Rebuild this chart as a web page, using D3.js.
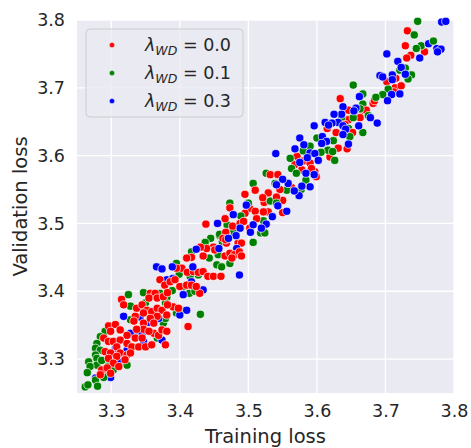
<!DOCTYPE html>
<html>
<head>
<meta charset="utf-8">
<script src="https://cdn.jsdelivr.net/npm/d3@7"></script>
<style>
body { margin: 0; background: #ffffff; }
.chart text { font-family: "DejaVu Sans", sans-serif; fill: #262626; }
</style>
</head>
<body>
<script>

// series labels (lambda_WD values) and colours
var seriesLabels = ["0.0", "0.1", "0.3"];
var seriesColors = ["#ff0000", "#008000", "#0000ff"];

// tick labels
var xTicks = [3.3, 3.4, 3.5, 3.6, 3.7, 3.8];
var yTicks = [3.3, 3.4, 3.5, 3.6, 3.7, 3.8];

// [training loss, validation loss] for lambda_WD = 0.0
var redPts = [
  [3.732,3.784],[3.729,3.762],[3.757,3.753],[3.737,3.748],[3.731,3.744],[3.715,3.714],
  [3.702,3.709],[3.714,3.700],[3.723,3.703],[3.712,3.694],[3.682,3.677],[3.684,3.681],
  [3.634,3.684],[3.666,3.667],[3.672,3.667],[3.646,3.667],[3.663,3.656],[3.646,3.653],
  [3.641,3.646],[3.615,3.640],[3.628,3.634],[3.652,3.634],[3.631,3.611],[3.644,3.610],
  [3.619,3.598],[3.571,3.599],[3.580,3.592],[3.590,3.589],[3.568,3.587],[3.578,3.579],
  [3.597,3.576],[3.592,3.581],[3.599,3.569],
  [3.563,3.553],[3.550,3.534],[3.523,3.531],[3.529,3.517],[3.522,3.517],[3.550,3.516],
  [3.532,3.572],[3.543,3.572],[3.546,3.550],[3.541,3.539],[3.529,3.545],[3.521,3.538],
  [3.495,3.543],[3.510,3.549],[3.473,3.523],[3.466,3.507],[3.477,3.496],[3.502,3.522],
  [3.495,3.515],[3.510,3.518],[3.488,3.500],[3.493,3.503],[3.485,3.471],[3.490,3.471],
  [3.467,3.487],[3.512,3.507],[3.502,3.493],[3.468,3.471],[3.463,3.478],
  [3.438,3.499],[3.467,3.476],[3.449,3.465],[3.439,3.463],[3.430,3.465],[3.417,3.450],
  [3.410,3.449],[3.434,3.452],[3.451,3.461],[3.466,3.452],[3.403,3.434],[3.395,3.434],
  [3.411,3.428],[3.420,3.429],[3.427,3.428],[3.434,3.429],[3.441,3.422],[3.449,3.422],
  [3.460,3.422],[3.473,3.456],[3.480,3.454],[3.487,3.458],[3.490,3.452],[3.476,3.449],
  [3.371,3.417],[3.378,3.409],[3.386,3.414],[3.393,3.417],[3.400,3.407],[3.410,3.409],
  [3.417,3.409],[3.429,3.397],[3.424,3.407],[3.390,3.377],[3.398,3.375],[3.412,3.348],
  [3.357,3.397],[3.364,3.397],[3.355,3.390],[3.367,3.390],[3.376,3.392],[3.382,3.398],
  [3.315,3.388],[3.318,3.380],[3.337,3.375],[3.345,3.380],[3.352,3.372],[3.359,3.370],
  [3.367,3.375],[3.374,3.372],[3.382,3.380],[3.347,3.368],[3.335,3.363],[3.367,3.363],
  [3.333,3.356],[3.347,3.353],[3.357,3.360],[3.362,3.353],[3.381,3.365],[3.296,3.349],
  [3.306,3.351],[3.299,3.341],[3.313,3.343],[3.323,3.335],[3.335,3.331],[3.345,3.331],
  [3.347,3.344],[3.362,3.338],[3.369,3.335],[3.374,3.343],[3.381,3.341],[3.337,3.344],
  [3.355,3.341],[3.289,3.331],[3.296,3.326],[3.303,3.326],[3.313,3.328],[3.323,3.323],
  [3.330,3.318],[3.340,3.318],[3.350,3.318],[3.359,3.321],[3.379,3.321],[3.308,3.318],
  [3.291,3.311],[3.299,3.309],[3.313,3.309],[3.323,3.306],[3.328,3.309],[3.296,3.301],
  [3.308,3.304],[3.320,3.299],[3.303,3.294],[3.286,3.284],[3.294,3.287],[3.299,3.279],
  [3.284,3.277],[3.311,3.289]
];

// lambda_WD = 0.1
var greenPts = [
  [3.747,3.798],[3.742,3.778],[3.752,3.762],[3.745,3.758],[3.770,3.769],[3.729,3.729],
  [3.721,3.726],[3.738,3.719],[3.733,3.713],[3.704,3.698],[3.696,3.690],[3.686,3.686],
  [3.667,3.691],[3.667,3.676],
  [3.653,3.704],[3.663,3.669],[3.675,3.659],[3.636,3.656],[3.653,3.656],[3.646,3.640],
  [3.667,3.634],[3.648,3.628],[3.600,3.626],[3.624,3.622],[3.616,3.608],[3.623,3.606],
  [3.590,3.614],[3.606,3.605],[3.580,3.607],[3.561,3.596],[3.626,3.593],[3.563,3.581],
  [3.570,3.574],
  [3.577,3.550],[3.556,3.549],[3.584,3.564],[3.526,3.574],[3.522,3.504],[3.518,3.486],
  [3.524,3.486],[3.532,3.533],[3.539,3.559],[3.558,3.560],[3.541,3.530],
  [3.507,3.559],[3.473,3.530],[3.469,3.498],[3.458,3.482],[3.478,3.488],[3.507,3.472],
  [3.500,3.530],[3.489,3.511],[3.468,3.484],[3.462,3.473],
  [3.458,3.484],[3.445,3.478],[3.437,3.472],[3.417,3.458],[3.456,3.454],[3.443,3.449],
  [3.395,3.441],[3.399,3.425],[3.415,3.422],[3.427,3.424],[3.454,3.439],[3.461,3.436],
  [3.473,3.441],[3.381,3.392],[3.405,3.407],[3.414,3.397],[3.389,3.401],[3.422,3.400],
  [3.395,3.368],[3.403,3.372],[3.430,3.366],
  [3.325,3.395],[3.347,3.398],[3.371,3.397],[3.381,3.391],[3.328,3.378],[3.350,3.383],
  [3.379,3.383],[3.328,3.358],[3.376,3.353],[3.379,3.360],[3.291,3.341],[3.284,3.333],
  [3.367,3.331],[3.279,3.323],[3.277,3.316],[3.284,3.313],[3.277,3.306],[3.279,3.301],
  [3.267,3.296],[3.279,3.291],[3.286,3.298],[3.296,3.290],[3.318,3.296],[3.323,3.291],
  [3.269,3.289],[3.265,3.280],[3.296,3.281],[3.277,3.269],[3.289,3.273],[3.303,3.284],
  [3.262,3.259],[3.266,3.262],[3.280,3.260]
];

// lambda_WD = 0.3
var bluePts = [
  [3.782,3.797],[3.788,3.798],[3.763,3.765],[3.775,3.758],[3.781,3.757],[3.776,3.753],
  [3.750,3.744],[3.702,3.750],[3.718,3.739],[3.723,3.730],[3.729,3.720],[3.692,3.718],
  [3.696,3.716],[3.710,3.719],[3.710,3.712],[3.709,3.690],[3.721,3.691],[3.703,3.681],
  [3.662,3.687],[3.638,3.672],[3.636,3.661],[3.657,3.670],[3.654,3.666],[3.688,3.648],
  [3.678,3.656],[3.625,3.661],[3.631,3.649],[3.638,3.644],[3.596,3.644],[3.612,3.649],
  [3.622,3.648],[3.661,3.644],[3.617,3.645],[3.642,3.639],[3.638,3.631],[3.608,3.628],
  [3.614,3.621],[3.575,3.626],[3.607,3.618],[3.646,3.617],[3.581,3.616],[3.568,3.610],
  [3.590,3.604],[3.597,3.603],[3.602,3.593],[3.575,3.590],[3.586,3.597],[3.584,3.574],
  [3.596,3.572],
  [3.590,3.554],[3.578,3.555],[3.574,3.541],[3.556,3.518],[3.535,3.510],[3.543,3.526],
  [3.567,3.548],[3.558,3.559],[3.526,3.499],[3.519,3.493],[3.540,3.603],[3.550,3.565],
  [3.541,3.557],
  [3.497,3.527],[3.478,3.513],[3.507,3.498],[3.488,3.493],[3.482,3.482],[3.503,3.487],
  [3.471,3.478],[3.483,3.463],
  [3.455,3.500],[3.424,3.462],[3.457,3.463],[3.366,3.436],[3.374,3.433],[3.389,3.436],
  [3.419,3.436],[3.487,3.424],[3.381,3.417],[3.390,3.419],[3.405,3.395],[3.417,3.414],
  [3.434,3.402],[3.410,3.372],[3.400,3.365],
  [3.318,3.363],[3.342,3.362],[3.369,3.360],[3.355,3.354],[3.335,3.339],[3.328,3.338],
  [3.345,3.338],[3.323,3.313],[3.306,3.316],[3.374,3.328],[3.347,3.326],[3.277,3.272],
  [3.299,3.273],[3.311,3.296]
];

var seriesPts = [redPts, greenPts, bluePts];

var width = 471, height = 448;
var plot = {left: 77, right: 454, top: 20, bottom: 393};

var svg = d3.select("body").append("svg")
    .attr("width", width)
    .attr("height", height)
    .attr("class", "chart");

var x = d3.scaleLinear().domain([3.25, 3.8]).range([plot.left, plot.right]);
var y = d3.scaleLinear().domain([3.25, 3.8]).range([plot.bottom, plot.top]);

// background + grid
svg.append("rect")
    .attr("x", plot.left).attr("y", plot.top)
    .attr("width", plot.right - plot.left)
    .attr("height", plot.bottom - plot.top)
    .attr("fill", "#eaeaf2");

svg.append("g").selectAll("line").data(xTicks).enter().append("line")
    .attr("x1", function(d) { return x(d); }).attr("x2", function(d) { return x(d); })
    .attr("y1", plot.top).attr("y2", plot.bottom)
    .attr("stroke", "#ffffff").attr("stroke-width", 1.3);

svg.append("g").selectAll("line").data(yTicks).enter().append("line")
    .attr("y1", function(d) { return y(d); }).attr("y2", function(d) { return y(d); })
    .attr("x1", plot.left).attr("x2", plot.right)
    .attr("stroke", "#ffffff").attr("stroke-width", 1.3);

// axes (labels only, no lines)
svg.append("g")
    .attr("transform", "translate(0," + plot.bottom + ")")
    .call(d3.axisBottom(x).tickValues(xTicks).tickFormat(d3.format(".1f")).tickSize(0).tickPadding(12));

svg.append("g")
    .attr("transform", "translate(" + plot.left + ",0)")
    .call(d3.axisLeft(y).tickValues(yTicks).tickFormat(d3.format(".1f")).tickSize(0).tickPadding(12));

svg.selectAll(".domain").remove();
svg.selectAll(".tick text")
    .attr("font-family", "DejaVu Sans, sans-serif")
    .attr("font-size", 17.5)
    .attr("fill", "#262626");

// points, interleaved so colours overlap as in a single hue scatter
var allPts = [];
var n = d3.max(seriesPts, function(s) { return s.length; });
for (var i = 0; i < n; i++) {
    seriesPts.forEach(function(s, k) {
        if (i < s.length) allPts.push({tx: s[i][0], vy: s[i][1], k: k});
    });
}

svg.append("g").selectAll("circle").data(allPts).enter().append("circle")
    .attr("cx", function(d) { return x(d.tx); })
    .attr("cy", function(d) { return y(d.vy); })
    .attr("r", 4.1)
    .attr("fill", function(d) { return seriesColors[d.k]; })
    .attr("stroke", "#ffffff")
    .attr("stroke-width", 0.7);

// axis titles
svg.append("text")
    .attr("x", (plot.left + plot.right) / 2)
    .attr("y", 443)
    .attr("text-anchor", "middle")
    .attr("font-size", 19.5)
    .text("Training loss");

svg.append("text")
    .attr("transform", "translate(27," + ((plot.top + plot.bottom) / 2) + ") rotate(-90)")
    .attr("text-anchor", "middle")
    .attr("font-size", 19.5)
    .text("Validation loss");

// legend
var legend = svg.append("g");
legend.append("rect")
    .attr("x", 86).attr("y", 29)
    .attr("width", 157).attr("height", 88)
    .attr("rx", 4)
    .attr("fill", "#eaeaf2").attr("fill-opacity", 0.8)
    .attr("stroke", "#cccccc").attr("stroke-width", 1);

var item = legend.selectAll("g.item").data(seriesLabels).enter().append("g")
    .attr("class", "item")
    .attr("transform", function(d, i) { return "translate(0," + (45 + i * 28) + ")"; });

item.append("circle")
    .attr("cx", 112).attr("cy", 0).attr("r", 2.6)
    .attr("fill", function(d, i) { return seriesColors[i]; })
    .attr("stroke", "#ffffff").attr("stroke-width", 0.4);

var label = item.append("text")
    .attr("x", 145).attr("y", 6)
    .attr("font-size", 17.5);
label.append("tspan").attr("font-style", "italic").text("\u03bb");
label.append("tspan").attr("font-style", "italic").attr("font-size", 12.5).attr("dy", 3.5).text("WD");
label.append("tspan").attr("dy", -3.5).text(function(d) { return " = " + d; });

</script>
</body>
</html>
